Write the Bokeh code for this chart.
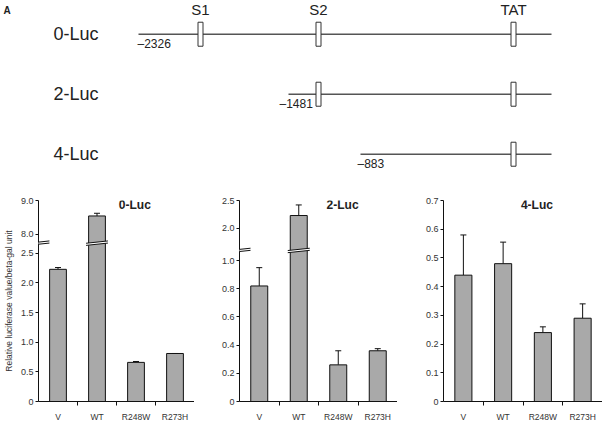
import numpy as np
from bokeh.plotting import figure
from bokeh.layouts import column, row
from bokeh.models import (Range1d, FixedTicker, Whisker, TeeHead, PolyAnnotation,
                          Arrow, Label, ColumnDataSource)
from bokeh.core.properties import value
from bokeh.embed import file_html
from bokeh.resources import INLINE

FONT = "Liberation Sans"
TXT = "#222222"

# ---------------- Panel A : promoter constructs (schematic units) ----------------
constructs = ["0-Luc", "2-Luc", "4-Luc"]
construct_start_labels = ["\u20132326", "\u20131481", "\u2013883"]
construct_start_pos = [138, 288, 360]
construct_end_pos = [551, 551, 551]
elements = ["S1", "S2", "TAT"]
element_pos = [200, 318, 513]

# ---------------- Panel B : luciferase reporter activity ----------------
categories = ["V", "WT", "R248W", "R273H"]
luc0_values = [2.23, 8.54, 0.66, 0.81]
luc0_errors = [0.03, 0.08, 0.015, 0.0]
luc0_ticks = [0, 0.5, 1.0, 1.5, 2.0, 2.5, 8.0, 9.0]
luc0_tick_labels = ["0", "0.5", "1.0", "1.5", "2.0", "2.5", "8.0", "9.0"]

luc2_values = [0.82, 2.23, 0.26, 0.36]
luc2_errors = [0.13, 0.19, 0.10, 0.015]
luc2_ticks = [0, 0.2, 0.4, 0.6, 0.8, 1.0, 2.0, 2.5]
luc2_tick_labels = ["0", "0.2", "0.4", "0.6", "0.8", "1.0", "2.0", "2.5"]

luc4_values = [0.44, 0.48, 0.24, 0.29]
luc4_errors = [0.14, 0.075, 0.02, 0.05]
luc4_ticks = [0, 0.1, 0.2, 0.3, 0.4, 0.5, 0.6, 0.7]
luc4_tick_labels = ["0", "0.1", "0.2", "0.3", "0.4", "0.5", "0.6", "0.7"]

y_label = "Relative luciferase value/beta-gal unit"

# label nudges (pixels) for the construct start coordinates
start_label_dx = [-1, -9, -3]

# ---------------- Panel A figure ----------------
top = figure(width=602, height=192, x_range=Range1d(0, 602), y_range=Range1d(2.638, -0.562),
             output_backend="svg", toolbar_location=None, min_border=0,
             x_axis_type=None, y_axis_type=None, outline_line_color=None)
top.grid.visible = False
rows_y = list(range(len(constructs)))

top.segment(x0=construct_start_pos, y0=rows_y, x1=construct_end_pos, y1=rows_y,
            line_color="#555555", line_width=1.6)
bx, by = [], []
for i, s in enumerate(construct_start_pos):
    for ep in element_pos:
        if ep > s:
            bx.append(ep)
            by.append(i)
top.rect(x=bx, y=by, width=5, height=24, width_units="screen", height_units="screen",
         fill_color="white", line_color="#333333", line_width=1)
top.text(x=[53] * len(constructs), y=rows_y, text=constructs, text_font=value(FONT),
         text_font_size="18px", text_color=TXT, text_align="left", text_baseline="middle")
top.text(x=construct_start_pos, y=rows_y, text=construct_start_labels, text_font=value(FONT),
         text_font_size="12px", text_color=TXT, text_align="left", text_baseline="middle",
         x_offset=start_label_dx, y_offset=10)
top.text(x=element_pos, y=[0] * len(elements), text=elements, text_font=value(FONT),
         text_font_size="15px", text_color=TXT, text_align="center", text_baseline="middle",
         y_offset=-25)
top.text(x=[3], y=[0], text=["A"], text_font=value(FONT), text_font_style="bold",
         text_font_size="10px", text_color=TXT, text_align="left", text_baseline="middle",
         y_offset=-24)


# ---------------- Panel B figures ----------------
def make_transform(brk):
    if brk is None:
        return lambda v: np.asarray(v, float)
    low_max, high_min, high_scale, gap = brk

    def tf(v):
        v = np.asarray(v, float)
        return np.where(v <= low_max, v, low_max + gap + (v - high_min) * high_scale)
    return tf


def bar_panel(title, vals, errs, ticks, tick_labels, width, b_left, b_right, brk, title_x,
              ylab=None, letter=None):
    height, b_top, b_bot = 232, 8, 16
    n = len(categories)
    fw = width - b_left - b_right
    fh = height - b_top - b_bot
    tf = make_transform(brk)
    top_disp = float(tf(max(ticks)))
    px2x = n / fw
    px2y = top_disp / fh

    p = figure(width=width, height=height, x_range=Range1d(0, n), y_range=Range1d(0, top_disp),
               output_backend="svg", toolbar_location=None,
               min_border_left=b_left, min_border_right=b_right,
               min_border_top=b_top, min_border_bottom=b_bot, outline_line_color=None)
    p.grid.visible = False

    centers = np.arange(n) + 0.5
    vals = np.asarray(vals, float)
    errs = np.asarray(errs, float)
    src = ColumnDataSource(dict(x=centers, top=tf(vals), upper=tf(vals + errs)))
    p.vbar(x="x", top="top", bottom=0, width=0.43, source=src,
           fill_color="#a9a9a9", line_color="#111111", line_width=1)
    p.add_layout(Whisker(source=src, base="x", lower="top", upper="upper", dimension="height",
                         lower_head=None,
                         upper_head=TeeHead(size=6, line_color="#111111", line_width=1),
                         line_color="#111111", line_width=1))

    # y axis
    disp = [round(float(d), 6) for d in tf(ticks)]
    ya = p.yaxis[0]
    ya.ticker = FixedTicker(ticks=disp, minor_ticks=[])
    ya.major_label_overrides = {d: lab for d, lab in zip(disp, tick_labels)}
    ya.axis_line_color = "#111111"
    ya.major_tick_line_color = "#111111"
    ya.major_tick_out = 3
    ya.major_tick_in = 0
    ya.minor_tick_line_color = None
    ya.major_label_standoff = 2
    ya.major_label_text_font = FONT
    ya.major_label_text_font_size = "9px"
    ya.major_label_text_color = "#333333"
    if ylab:
        ya.axis_label = ylab
        ya.axis_label_text_font = FONT
        ya.axis_label_text_font_size = "8.5px"
        ya.axis_label_text_font_style = "normal"
        ya.axis_label_text_color = "#333333"
        ya.axis_label_standoff = 4

    # x axis
    xa = p.xaxis[0]
    xa.ticker = FixedTicker(ticks=[float(c) for c in centers],
                            minor_ticks=[float(k) for k in range(1, n + 1)])
    xa.major_label_overrides = {float(c): cat for c, cat in zip(centers, categories)}
    xa.axis_line_color = "#111111"
    xa.major_tick_line_color = None
    xa.major_tick_out = 0
    xa.major_tick_in = 0
    xa.minor_tick_line_color = "#111111"
    xa.minor_tick_out = 4
    xa.minor_tick_in = 0
    xa.major_label_standoff = 6
    xa.major_label_text_font = FONT
    xa.major_label_text_font_size = "8.5px"
    xa.major_label_text_color = "#333333"

    # axis break marks
    if brk is not None:
        low_max = brk[0]
        yb = low_max + 10.5 * px2y
        xs_marks = [0.0] + [float(c) for c, v in zip(centers, vals) if v > low_max]
        for cx in xs_marks:
            hw = 11 * px2x
            rise = 1.2 * px2y
            sep = 1.1 * px2y
            p.add_layout(PolyAnnotation(
                xs=[cx - hw, cx + hw, cx + hw, cx - hw],
                ys=[yb - sep - rise, yb - sep + rise, yb + sep + rise, yb + sep - rise],
                fill_color="white", fill_alpha=1.0, line_color=None))
            for s in (-sep, sep):
                p.add_layout(Arrow(end=None, x_start=cx - hw, y_start=yb + s - rise,
                                   x_end=cx + hw, y_end=yb + s + rise,
                                   line_color="#111111", line_width=1))

    p.text(x=[title_x], y=[top_disp], text=[title], text_font=value(FONT),
           text_font_style="bold", text_font_size="12px", text_color=TXT,
           text_align="center", text_baseline="middle", y_offset=4)
    if letter:
        p.add_layout(Label(x=-b_left * px2x, y=top_disp - 5 * px2y, text=letter,
                           text_font=FONT, text_font_style="bold", text_font_size="10px",
                           text_color=TXT, text_align="left", text_baseline="middle"))
    return p


f1 = bar_panel("0-Luc", luc0_values, luc0_errors, luc0_ticks, luc0_tick_labels,
               194, 37, 0, (2.5, 8.0, 0.567, 0.324), 2.47, ylab=y_label, letter="B")
f2 = bar_panel("2-Luc", luc2_values, luc2_errors, luc2_ticks, luc2_tick_labels,
               203, 45, 0, (1.0, 2.0, 0.395, 0.229), 2.61)
f3 = bar_panel("4-Luc", luc4_values, luc4_errors, luc4_ticks, luc4_tick_labels,
               205, 46, 0, None, 2.35)

layout = column(top, row(f1, f2, f3, spacing=0), spacing=0)
open("out.html", "w").write(file_html(layout, INLINE))
